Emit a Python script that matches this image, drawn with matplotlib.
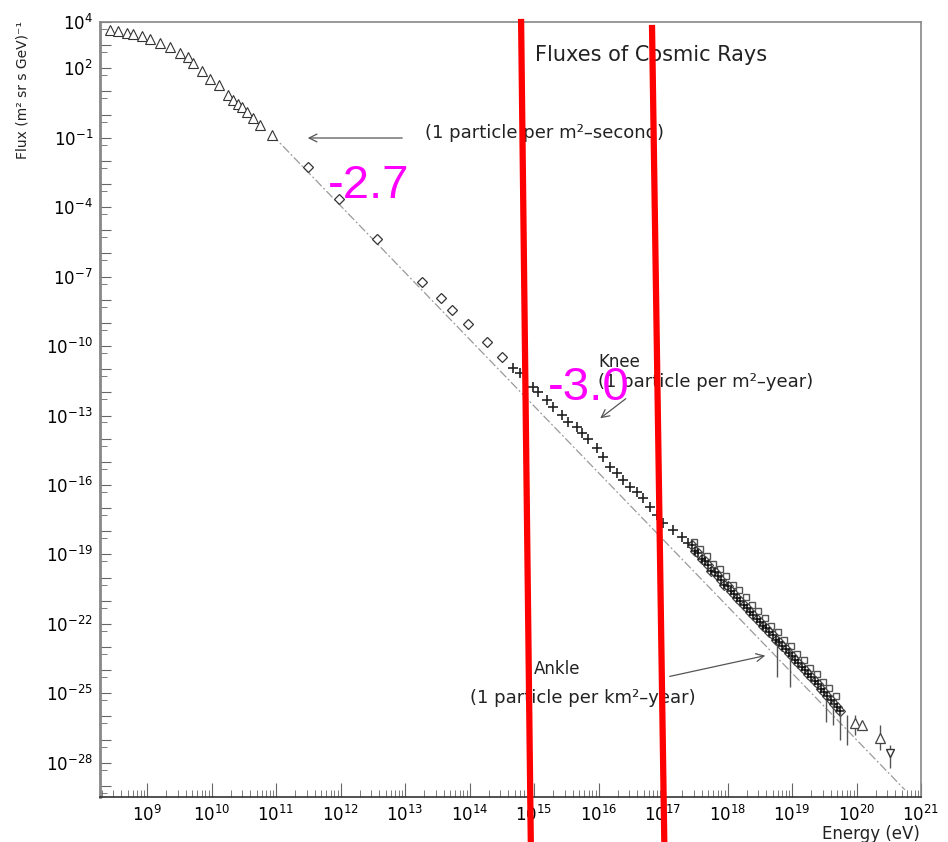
import matplotlib
matplotlib.use('Agg')
import matplotlib.pyplot as plt
from matplotlib.ticker import FixedLocator, FuncFormatter, NullFormatter
import numpy as np

# log10 of energy (eV) and flux
tri_logE = [8.43, 8.55, 8.69, 8.78, 8.92, 9.05, 9.20, 9.36, 9.51, 9.64, 9.71,
            9.85, 9.98, 10.11, 10.26, 10.33, 10.41, 10.47, 10.55, 10.64, 10.75, 10.94]
tri_logF = [3.65, 3.61, 3.52, 3.48, 3.40, 3.27, 3.09, 2.92, 2.66, 2.49, 2.23,
            1.88, 1.54, 1.28, 0.85, 0.63, 0.46, 0.33, 0.11, -0.15, -0.45, -0.88]

dia_logE = [11.50, 11.98, 12.57, 13.26, 13.56, 13.73, 13.98, 14.27, 14.50]
dia_logF = [-2.26, -3.65, -5.37, -7.23, -7.92, -8.44, -9.05, -9.82, -10.47]

knee_logE = [14.67, 14.78, 14.98, 15.06, 15.20, 15.29, 15.43, 15.53, 15.67, 15.74,
             15.84, 15.98, 16.07, 16.18, 16.29, 16.38, 16.49, 16.60, 16.69, 16.80,
             16.91, 17.00, 17.16, 17.29, 17.39]
knee_logF = [-10.95, -11.16, -11.77, -11.98, -12.33, -12.63, -12.98, -13.28, -13.49, -13.75,
             -14.01, -14.40, -14.79, -15.22, -15.48, -15.78, -16.09, -16.30, -16.56, -16.95,
             -17.30, -17.64, -17.94, -18.25, -18.51]

uhe_logE = [17.45, 17.50, 17.55, 17.60, 17.65, 17.70, 17.75, 17.80, 17.85, 17.90, 17.95,
            18.00, 18.05, 18.10, 18.15, 18.20, 18.25, 18.30, 18.35, 18.40, 18.45, 18.50,
            18.55, 18.60, 18.65, 18.70, 18.75, 18.80, 18.85, 18.90, 18.95, 19.00, 19.05,
            19.10, 19.15, 19.20, 19.25, 19.30, 19.35, 19.40, 19.45, 19.50, 19.55, 19.60,
            19.65, 19.70, 19.75]
uhe_logF = [-18.60, -18.85, -18.95, -19.20, -19.30, -19.45, -19.70, -19.75, -19.95, -20.10, -20.30,
            -20.35, -20.60, -20.70, -20.90, -21.00, -21.20, -21.30, -21.50, -21.60, -21.80, -21.90,
            -22.10, -22.20, -22.35, -22.50, -22.70, -22.80, -22.95, -23.10, -23.25, -23.40, -23.55,
            -23.70, -23.85, -24.00, -24.15, -24.30, -24.45, -24.60, -24.80, -24.95, -25.10, -25.30,
            -25.45, -25.60, -25.75]

# second experiment, slightly above the first one
uhe2_logE = [17.48, 17.58, 17.68, 17.78, 17.88, 17.98, 18.08, 18.18, 18.28, 18.38, 18.48, 18.58,
             18.68, 18.78, 18.88, 18.98, 19.08, 19.18, 19.28, 19.38, 19.48, 19.58, 19.68]
uhe2_logF = [-18.45, -18.75, -19.05, -19.40, -19.65, -19.95, -20.30, -20.55, -20.85, -21.20, -21.45, -21.75,
             -22.10, -22.35, -22.70, -22.95, -23.30, -23.55, -23.90, -24.15, -24.50, -24.75, -25.10]

# tail points with error bars (log10 values: centre, upper, lower)
tail_logE = [18.77, 18.97, 19.53, 19.64, 19.74, 19.85, 19.98, 20.09, 20.36]
tail_logF = [-23.34, -23.56, -25.63, -25.81, -26.24, -26.37, -26.28, -26.37, -26.93]
tail_hi = [-22.83, -23.13, -25.29, -25.37, -25.81, -25.94, -25.94, -26.37, -26.37]
tail_lo = [-24.29, -24.73, -26.24, -26.37, -27.02, -27.23, -26.80, -26.37, -27.45]
last_logE, last_logF, last_hi, last_lo = 20.52, -27.58, -27.23, -28.22

ref_logE = [10.94, 20.75]
ref_logF = [-0.88, -29.17]

# hand-drawn red marks (log10 coords, extend below the axes)
red1_logE, red1_logF = [14.80, 14.95], [4.0, -31.4]
red2_logE, red2_logF = [16.83, 17.02], [3.74, -31.4]

ylabels_shown = [4, 2, -1, -4, -7, -10, -13, -16, -19, -22, -25, -28]


def p(v):
    return 10.0 ** np.asarray(v)


fig = plt.figure(figsize=(9.48, 8.42), dpi=100)
ax = fig.add_axes([100 / 948, 1 - 797 / 842, 821 / 948, 775 / 842])
ax.set_xscale('log')
ax.set_yscale('log')
ax.set_xlim(10 ** 8.271, 10 ** 21.0)
ax.set_ylim(10 ** -29.48, 10 ** 4.0)

ax.plot(p(ref_logE), p(ref_logF), color='#9a9a9a', lw=0.9, ls=(0, (7, 2, 1.5, 2)), zorder=1)

ax.plot(p(tri_logE), p(tri_logF), ls='none', marker='^', ms=7, mfc='white', mec='#333333', mew=0.8)
ax.plot(p(dia_logE), p(dia_logF), ls='none', marker='D', ms=5, mfc='white', mec='#333333', mew=0.9)
ax.plot(p(knee_logE), p(knee_logF), ls='none', marker='+', ms=7, mec='#222222', mew=1.2)
ax.plot(p(uhe2_logE), p(uhe2_logF), ls='none', marker='s', ms=5, mfc='white', mec='#555555', mew=1.0)
ax.plot(p(uhe_logE), p(uhe_logF), ls='none', marker='D', ms=5, mfc='white', mec='#444444', mew=0.9)
ax.plot(p(uhe_logE), p(uhe_logF), ls='none', marker='+', ms=6, mec='#111111', mew=1.1)

tE = p(tail_logE)
tF = p(tail_logF)
yerr = [tF - p(tail_lo), p(tail_hi) - tF]
ax.errorbar(tE, tF, yerr=yerr, fmt='none', ecolor='#555555', elinewidth=1.0, capsize=0)
ax.plot(tE[-3:], tF[-3:], ls='none', marker='^', ms=7, mfc='white', mec='#444444', mew=0.9)
ax.errorbar([10 ** last_logE], [10 ** last_logF],
            yerr=[[10 ** last_logF - 10 ** last_lo], [10 ** last_hi - 10 ** last_logF]],
            fmt='v', ms=6, mfc='white', mec='#333333', ecolor='#555555', elinewidth=1.0)

# axes styling
for s in ax.spines.values():
    s.set_color('#888888')
    s.set_linewidth(1.2)
ax.spines['left'].set_linewidth(2.0)
ax.spines['bottom'].set_color('#333333')

ax.xaxis.set_major_locator(FixedLocator(p(np.arange(9, 22))))
ax.xaxis.set_major_formatter(FuncFormatter(lambda v, pos: r'$10^{%d}$' % round(np.log10(v))))
ax.xaxis.set_minor_locator(FixedLocator([m * 10.0 ** k for k in range(8, 21) for m in range(2, 10)]))
ax.xaxis.set_minor_formatter(NullFormatter())

ax.yaxis.set_major_locator(FixedLocator(p(np.arange(-29, 5))))
ax.yaxis.set_major_formatter(FuncFormatter(
    lambda v, pos: r'$10^{%d}$' % round(np.log10(v)) if round(np.log10(v)) in ylabels_shown else ''))
ax.yaxis.set_minor_locator(FixedLocator([5 * 10.0 ** k for k in range(-30, 4)]))
ax.yaxis.set_minor_formatter(NullFormatter())

ax.tick_params(which='both', direction='in', color='#666666', top=False, right=False, labelsize=12)
ax.tick_params(axis='x', which='major', length=10, pad=6)
ax.tick_params(axis='x', which='minor', length=5)
ax.tick_params(axis='y', which='major', length=8, pad=5)
ax.tick_params(axis='y', which='minor', length=5)


def fx(x):
    return (x - 100) / 821


def fy(y):
    return (797 - y) / 775


tkw = dict(transform=ax.transAxes, color='#222222', family='DejaVu Sans')
ax.text(fx(535), fy(55), 'Fluxes of Cosmic Rays', fontsize=15, va='center', ha='left', **tkw)
ax.text(fx(425), fy(133), '(1 particle per m\u00b2\u2013second)', fontsize=13, va='center', ha='left', **tkw)
ax.text(fx(598), fy(362), 'Knee', fontsize=12, va='center', ha='left', **tkw)
ax.text(fx(598), fy(382), '(1 particle per m\u00b2\u2013year)', fontsize=13, va='center', ha='left', **tkw)
ax.text(fx(534), fy(669), 'Ankle', fontsize=12, va='center', ha='left', **tkw)
ax.text(fx(470), fy(698), '(1 particle per km\u00b2\u2013year)', fontsize=13, va='center', ha='left', **tkw)

akw = dict(xycoords='axes fraction', textcoords='axes fraction',
           arrowprops=dict(arrowstyle='->', color='#555555', lw=0.9, mutation_scale=14))
ax.annotate('', xy=(fx(305), fy(138)), xytext=(fx(405), fy(138)), **akw)
ax.annotate('', xy=(fx(598), fy(420)), xytext=(fx(628), fy(397)), **akw)
ax.annotate('', xy=(fx(768), fy(655)), xytext=(fx(667), fy(677)), **akw)

ax.text(fx(328), fy(186), '-2.7', fontsize=34, color='#ff00ff', family='Liberation Sans',
        va='center', ha='left', transform=ax.transAxes)
ax.text(fx(548), fy(388), '-3.0', fontsize=34, color='#ff00ff', family='Liberation Sans',
        va='center', ha='left', transform=ax.transAxes)

ax.plot(p(red1_logE), p(red1_logF), color='#ff0000', lw=4.5, clip_on=False, zorder=5)
ax.plot(p(red2_logE), p(red2_logF), color='#ff0000', lw=4.5, clip_on=False, zorder=5)

fig.text(23 / 948, 1 - 90 / 842, 'Flux (m\u00b2 sr s GeV)\u207b\u00b9', rotation=90,
         fontsize=10, va='center', ha='center', color='#222222')
fig.text(920 / 948, 1 - 834 / 842, 'Energy (eV)', fontsize=12, va='center', ha='right', color='#222222')

fig.savefig('out.png', dpi=100)
